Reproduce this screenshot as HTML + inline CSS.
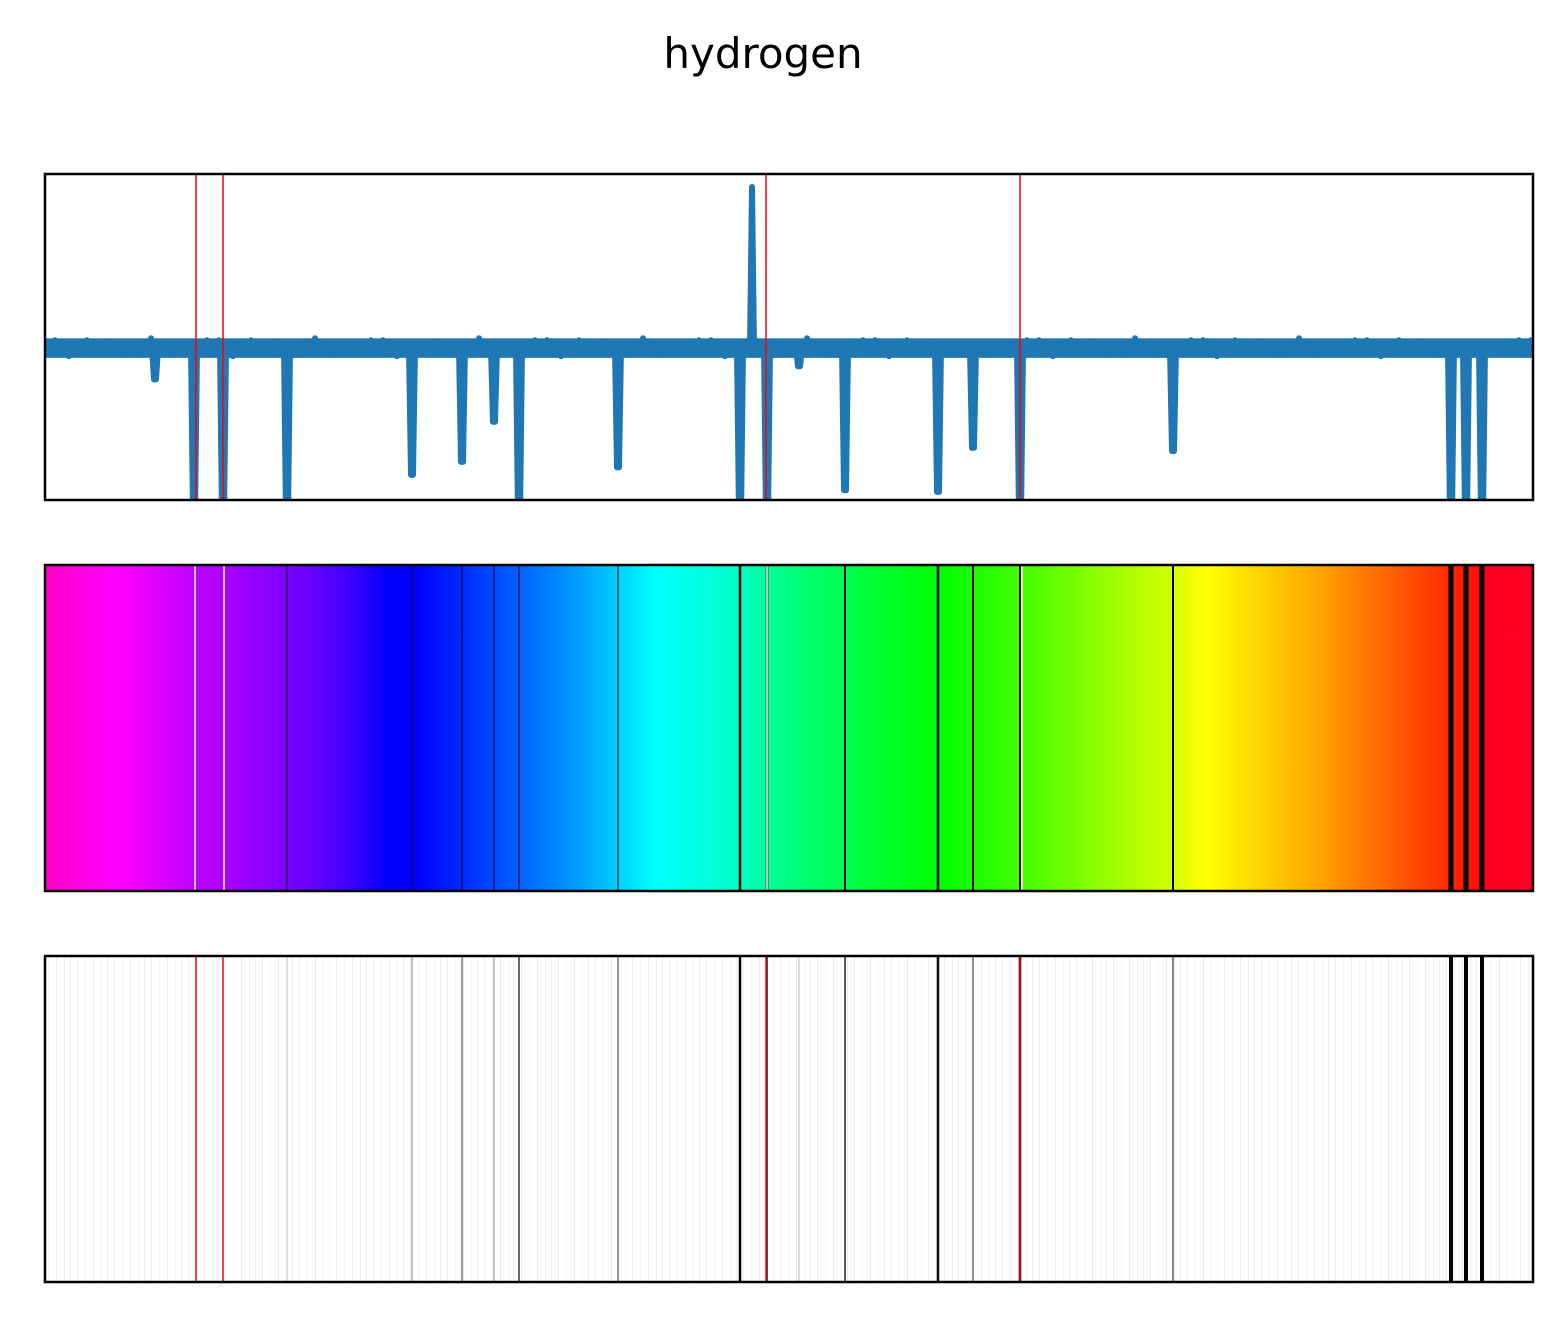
<!DOCTYPE html>
<html><head><meta charset="utf-8"><style>
body{margin:0;background:#fff;}
svg{display:block;font-family:"DejaVu Sans","Liberation Sans",sans-serif;}
</style></head><body>
<svg id="chart" width="1562" height="1327" viewBox="0 0 1562 1327" xmlns="http://www.w3.org/2000/svg">
<defs>
<linearGradient id="rainbow" x1="0" x2="1" y1="0" y2="0">
<stop offset="0" stop-color="#ff00c8"/>
<stop offset="0.05" stop-color="#ff00ff"/>
<stop offset="0.1" stop-color="#c000ff"/>
<stop offset="0.16" stop-color="#8000ff"/>
<stop offset="0.2" stop-color="#4800ff"/>
<stop offset="0.23" stop-color="#0000ff"/>
<stop offset="0.25" stop-color="#0000ff"/>
<stop offset="0.318" stop-color="#0060ff"/>
<stop offset="0.36" stop-color="#00a0ff"/>
<stop offset="0.41" stop-color="#00ffff"/>
<stop offset="0.467" stop-color="#00ffc8"/>
<stop offset="0.49" stop-color="#00ff90"/>
<stop offset="0.54" stop-color="#00ff48"/>
<stop offset="0.6" stop-color="#00ff00"/>
<stop offset="0.655" stop-color="#40ff00"/>
<stop offset="0.76" stop-color="#d8ff00"/>
<stop offset="0.78" stop-color="#ffff00"/>
<stop offset="0.86" stop-color="#ffa000"/>
<stop offset="0.95" stop-color="#ff2000"/>
<stop offset="0.97" stop-color="#ff0020"/>
<stop offset="1" stop-color="#ff0028"/>
</linearGradient>
<pattern id="faint" width="37" height="10" patternUnits="userSpaceOnUse">
<rect x="3" width="1" height="10" fill="#eee"/><rect x="11" width="1" height="10" fill="#f2f2f2"/>
<rect x="19" width="1" height="10" fill="#ebebeb"/><rect x="27" width="1" height="10" fill="#f3f3f3"/><rect x="33" width="1" height="10" fill="#efefef"/>
</pattern>
</defs>
<text x="763" y="68" text-anchor="middle" font-size="42">hydrogen</text>
<g id="p1"></g>
<g id="p2"></g>
<g id="p3"></g>
</svg>
<script>
const linePos = [110,149,178,242,367,417,449,474,573,695,722,754,800,893,928,975,1128,1406,1421,1437];
const lineMin = [0.37,-0.05,-0.05,-0.05,0.077,0.117,0.24,-0.05,0.10,-0.05,-0.05,0.41,0.03,0.025,0.16,-0.05,0.15,-0.05,-0.05,-0.05];
const colorWidth = [0,0,0,1,1,1,1,1,1,2.5,2.5,0,2,2.5,2,2,2,5,5,5];
const barcodeShade = [0.05,0,0,0.1,0.25,0.45,0.25,0.75,0.5,1,0.9,0.1,0.85,0.95,0.55,1,0.6,1,1,1];
const spikePos = [707];
const spikeHeight = [0.96];
const markerPos = [151,178,721,975];
const whitePos = [150,179,722,977];
const baseline = 0.466;
const noise = [0.02,-0.01,0.03,0.0,-0.02,0.04,0.01,-0.025,0.02,0.03,-0.01,0.0,0.05,-0.02,0.01,0.02,-0.03,0.03,0.0,0.02,-0.01,0.04,0.01,-0.02,0.03,0.0,0.02,-0.015,0.03,0.01,-0.02,0.025,0.0,0.035,-0.01,0.015,-0.025,0.03,0.005,-0.01,0.04];
const X0=45, W=1488, XMAX=1488;
const panels=[174,565,956], H=326;
const NS="http://www.w3.org/2000/svg";
function xs(v){return X0+v/XMAX*W;}
function ys(v,top){return top+H-v*H;}
function mk(tag,attrs,parent){const e=document.createElementNS(NS,tag);for(const k in attrs)e.setAttribute(k,attrs[k]);parent.appendChild(e);return e;}
const p1=document.getElementById('p1'),p2=document.getElementById('p2'),p3=document.getElementById('p3');
{
 const t=panels[0];
 const cp=mk('clipPath',{id:'c1'},p1);mk('rect',{x:X0,y:t,width:W,height:H},cp);
 const g=mk('g',{'clip-path':'url(#c1)'},p1);
 let pts=[];
 for(let v=0, k=0; v<=XMAX; v+=2, k++){
  pts.push([v,baseline+noise[k%noise.length]*(k%2?0.6:-0.5)]);
 }
 linePos.forEach((p,i)=>{pts=pts.filter(q=>Math.abs(q[0]-p)>3);pts.push([p-3,baseline],[p-1,lineMin[i]],[p+1,lineMin[i]],[p+3,baseline]);});
 spikePos.forEach((p,i)=>{pts=pts.filter(q=>Math.abs(q[0]-p)>2);pts.push([p-2,baseline],[p,spikeHeight[i]],[p+2,baseline]);});
 pts.sort((a,b)=>a[0]-b[0]);
 const band=mk('rect',{x:X0,y:ys(baseline+0.03,t),width:W,height:0.06*H,fill:'#1f77b4'},g);
 
 
 const path=mk('path',{d:'M'+pts.map(p=>xs(p[0]).toFixed(1)+','+ys(p[1],t).toFixed(1)).join('L'),fill:'none',stroke:'#1f77b4','stroke-width':6,'stroke-linejoin':'round','stroke-linecap':'round'},g);
 
 
 markerPos.forEach(p=>{const l=mk('line',{x1:xs(p),x2:xs(p),y1:t,y2:t+H,stroke:'#ff0000','stroke-width':1.5},g);
  
  });
 const f=mk('rect',{x:X0,y:t,width:W,height:H,fill:'none',stroke:'#000','stroke-width':2.5},p1);
 
 
}
{
 const t=panels[1];
 const r=mk('rect',{x:X0,y:t,width:W,height:H,fill:'url(#rainbow)'},p2);
 
 
 linePos.forEach((p,i)=>{if(!colorWidth[i])return;const l=mk('line',{x1:xs(p),x2:xs(p),y1:t,y2:t+H,stroke:'#000','stroke-width':colorWidth[i]},p2);
  
  });
 whitePos.forEach(p=>{const l=mk('line',{x1:xs(p),x2:xs(p),y1:t,y2:t+H,stroke:'#fff','stroke-width':1.5},p2);
  
  });
 const f=mk('rect',{x:X0,y:t,width:W,height:H,fill:'none',stroke:'#000','stroke-width':2.5},p2);
 
 
}
{
 const t=panels[2];
 const r=mk('rect',{x:X0,y:t,width:W,height:H,fill:'url(#faint)'},p3);
 
 
 linePos.forEach((p,i)=>{const d=barcodeShade[i];if(d<0.08)return;const g=Math.round(235*(1-d));const l=mk('line',{x1:xs(p),x2:xs(p),y1:t,y2:t+H,stroke:`rgb(${g},${g},${g})`,'stroke-width':i>=17?4:(d>0.9?2.5:1.5)},p3);
  
  });
 markerPos.forEach(p=>{const l=mk('line',{x1:xs(p),x2:xs(p),y1:t,y2:t+H,stroke:'#ff0000','stroke-width':1.5},p3);
  
  });
 const f=mk('rect',{x:X0,y:t,width:W,height:H,fill:'none',stroke:'#000','stroke-width':2.5},p3);
 
 
}
</script>
</body></html>
